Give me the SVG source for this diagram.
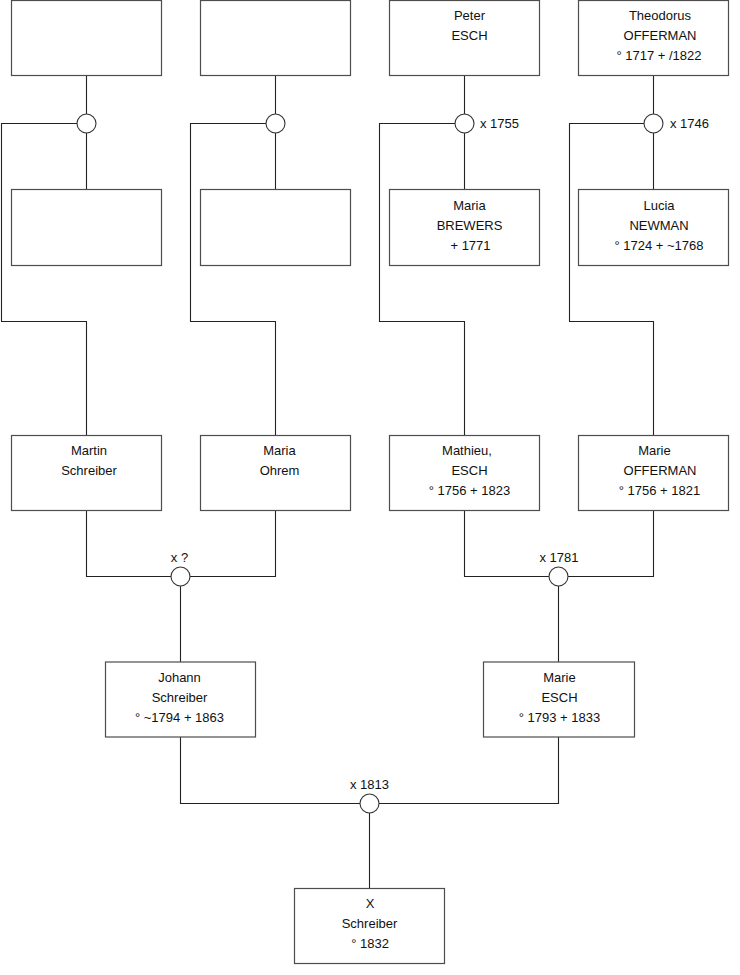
<svg xmlns="http://www.w3.org/2000/svg" width="740" height="975" viewBox="0 0 740 975">
<style>
.box{fill:#fff;stroke:#4d4d4d;stroke-width:1.2}
.c{fill:none;stroke:#222;stroke-width:1.1}
.k{fill:#fff;stroke:#333;stroke-width:1.1}
text{font-family:"Liberation Sans",Arial,sans-serif;font-size:13px;fill:#111}
.m{text-anchor:middle}
</style>
<rect width="740" height="975" fill="#fff"/>
<g id="connectors">
<path class="c" d="M86.5 76V189M77 123.5H1.5V321.5H86.5V435"/>
<path class="c" d="M275.5 76V189M266 123.5H190.5V321.5H275.5V435"/>
<path class="c" d="M464.5 76V189M455 123.5H379.5V321.5H464.5V435"/>
<path class="c" d="M653.5 76V189M644 123.5H569.5V321.5H653.5V435"/>
<path class="c" d="M86.5 510V576.5H171M190 576.5H275.5V510M180.5 586V662"/>
<path class="c" d="M464.5 510V576.5H549M568 576.5H653.5V510M558.5 586V662"/>
<path class="c" d="M180.5 737V803.5H360M379 803.5H558.5V737M369.5 813V888"/>
<circle class="k" cx="86.5" cy="123.5" r="9.5"/>
<circle class="k" cx="275.5" cy="123.5" r="9.5"/>
<circle class="k" cx="464.5" cy="123.5" r="9.5"/>
<circle class="k" cx="653.5" cy="123.5" r="9.5"/>
<circle class="k" cx="180.5" cy="576.5" r="9.5"/>
<circle class="k" cx="558.5" cy="576.5" r="9.5"/>
<circle class="k" cx="369.5" cy="803.5" r="9.5"/>
<text x="480" y="128">x 1755</text>
<text x="670" y="128">x 1746</text>
<text class="m" x="179.5" y="562">x ?</text>
<text class="m" x="559" y="562">x 1781</text>
<text class="m" x="369.5" y="789">x 1813</text>
</g>
<g id="n1"><rect class="box" x="11.5" y="0.5" width="150" height="75"/></g>
<g id="n2"><rect class="box" x="200.5" y="0.5" width="150" height="75"/></g>
<g id="n3"><rect class="box" x="389.5" y="0.5" width="150" height="75"/>
<text class="m" x="469.5" y="20">Peter</text><text class="m" x="469.5" y="40">ESCH</text></g>
<g id="n4"><rect class="box" x="578.5" y="0.5" width="150" height="75"/>
<text class="m" x="660" y="20">Theodorus</text><text class="m" x="660" y="40">OFFERMAN</text><text class="m" x="659" y="60">° 1717 + /1822</text></g>
<g id="n5"><rect class="box" x="11.5" y="189.5" width="150" height="76"/></g>
<g id="n6"><rect class="box" x="200.5" y="189.5" width="150" height="76"/></g>
<g id="n7"><rect class="box" x="389.5" y="189.5" width="150" height="76"/>
<text class="m" x="469.5" y="210">Maria</text><text class="m" x="469.5" y="230">BREWERS</text><text class="m" x="470.5" y="250">+ 1771</text></g>
<g id="n8"><rect class="box" x="578.5" y="189.5" width="150" height="76"/>
<text class="m" x="659" y="210">Lucia</text><text class="m" x="659" y="230">NEWMAN</text><text class="m" x="659" y="250">° 1724 + ~1768</text></g>
<g id="n9"><rect class="box" x="11.5" y="435.5" width="150" height="75"/>
<text class="m" x="89" y="455">Martin</text><text class="m" x="89" y="475">Schreiber</text></g>
<g id="n10"><rect class="box" x="200.5" y="435.5" width="150" height="75"/>
<text class="m" x="279.5" y="455">Maria</text><text class="m" x="279.5" y="475">Ohrem</text></g>
<g id="n11"><rect class="box" x="389.5" y="435.5" width="150" height="75"/>
<text class="m" x="467" y="455">Mathieu,</text><text class="m" x="469.5" y="475">ESCH</text><text class="m" x="469.5" y="495">° 1756 + 1823</text></g>
<g id="n12"><rect class="box" x="578.5" y="435.5" width="150" height="75"/>
<text class="m" x="654.5" y="455">Marie</text><text class="m" x="660" y="475">OFFERMAN</text><text class="m" x="659.5" y="495">° 1756 + 1821</text></g>
<g id="n13"><rect class="box" x="105.5" y="662" width="150" height="75"/>
<text class="m" x="179.5" y="682">Johann</text><text class="m" x="179.5" y="702">Schreiber</text><text class="m" x="179.5" y="722">° ~1794 + 1863</text></g>
<g id="n14"><rect class="box" x="483.5" y="662" width="151" height="75"/>
<text class="m" x="559.5" y="682">Marie</text><text class="m" x="559.5" y="702">ESCH</text><text class="m" x="559.5" y="722">° 1793 + 1833</text></g>
<g id="n15"><rect class="box" x="294.5" y="888.5" width="150" height="75"/>
<text class="m" x="370" y="908">X</text><text class="m" x="369.5" y="928">Schreiber</text><text class="m" x="370" y="948">° 1832</text></g>
</svg>
